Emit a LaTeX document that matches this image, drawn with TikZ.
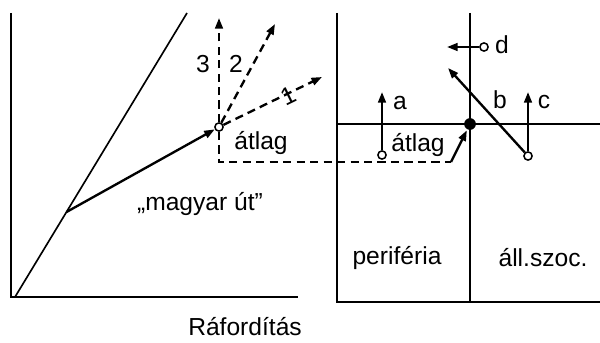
\documentclass[tikz,border=0pt]{standalone}
\usepackage{fontspec}
\setmainfont{Liberation Sans}
\usetikzlibrary{arrows.meta}
\tikzset{
  nyil/.style={-{Triangle[length=9pt,width=6.5pt]}},
  szagg/.style={dash pattern=on 7pt off 4.5pt},
  kor/.style={circle,draw,fill=white,line width=1.3pt,inner sep=0pt,minimum size=7pt},
  pont/.style={circle,fill,inner sep=0pt,minimum size=10pt},
  felirat/.style={font=\fontsize{21}{24}\selectfont,inner sep=1pt}
}
\begin{document}
\begin{tikzpicture}[x=0.03cm,y=-0.03cm,line width=2pt]
    \useasboundingbox (0,0) rectangle (600,342);
    % Bal oldali ábra: tengelyek
    \coordinate (yfent) at (11,13);
    \coordinate (origo) at (11,297);
    \coordinate (xjobb) at (298,297);
    \draw (yfent) -- (origo) -- (xjobb);
    \node[felirat] (raford) at (245,327) {Ráfordítás};
    % Átló
    \coordinate (atlo0) at (15,297);
    \coordinate (atlo1) at (187,13);
    \draw[line width=1.4pt] (atlo0) -- (atlo1);
    % Magyar út
    \coordinate (indul) at (66.5,212);
    \node[kor] (atlag) at (219,127) {};
    \draw[nyil] (indul) -- (atlag);
    \node[felirat] (magyar) at (200,204) {„magyar út”};
    \node[felirat] (atlagL) at (261,143) {átlag};
    % Szaggatott irányok
    \coordinate (irany3) at (219,18);
    \coordinate (irany2) at (275,24);
    \coordinate (irany1) at (322,77);
    \draw[szagg,nyil] (atlag) -- (irany3);
    \draw[szagg,nyil] (atlag) -- (irany2);
    \draw[szagg,nyil] (atlag) -- (irany1);
    \node[felirat] (h3) at (203,64) {3};
    \node[felirat] (h2) at (236,64) {2};
    \node[felirat,rotate=26] (h1) at (288,96) {1};
    % Szaggatott összekötés
    \coordinate (sarok) at (219,162);
    \coordinate (vege) at (451,162);
    \draw[szagg] (atlag) -- (sarok) -- (vege);
    % Jobb oldali ábra
    \coordinate (bf) at (337,13);
    \coordinate (ba) at (337,302);
    \coordinate (ja) at (600,302);
    \coordinate (kf) at (470,13);
    \coordinate (ka) at (470,302);
    \coordinate (vb) at (337,124);
    \coordinate (vj) at (600,124);
    \draw (bf) -- (ba) -- (ja);
    \draw (kf) -- (ka);
    \draw (vb) -- (vj);
    \node[pont] (kozep) at (470,124) {};
    \node[felirat] (perif) at (397,258) {periféria};
    \node[felirat] (allszoc) at (543,258) {áll.szoc.};
    % Átlag a jobb oldalon
    \node[kor] (atlagR) at (382,155) {};
    \node[felirat] (atlagRt) at (418,145) {átlag};
    \draw[nyil] (vege) -- (kozep);
    % a, b, c, d
    \coordinate (avege) at (382,92);
    \draw[nyil] (atlagR) -- (avege);
    \node[felirat] (la) at (400,103) {a};
    \node[kor] (dpont) at (484,47) {};
    \coordinate (dvege) at (447,47);
    \draw[nyil] (dpont) -- (dvege);
    \node[felirat] (ld) at (502,45) {d};
    \node[kor] (bc) at (528,156) {};
    \coordinate (bvege) at (448,68);
    \coordinate (cvege) at (528,92);
    \draw[nyil] (bc) -- (bvege);
    \draw[nyil] (bc) -- (cvege);
    \node[felirat] (lb) at (500,100) {b};
    \node[felirat] (lc) at (544,102) {c};
\end{tikzpicture}
\end{document}
